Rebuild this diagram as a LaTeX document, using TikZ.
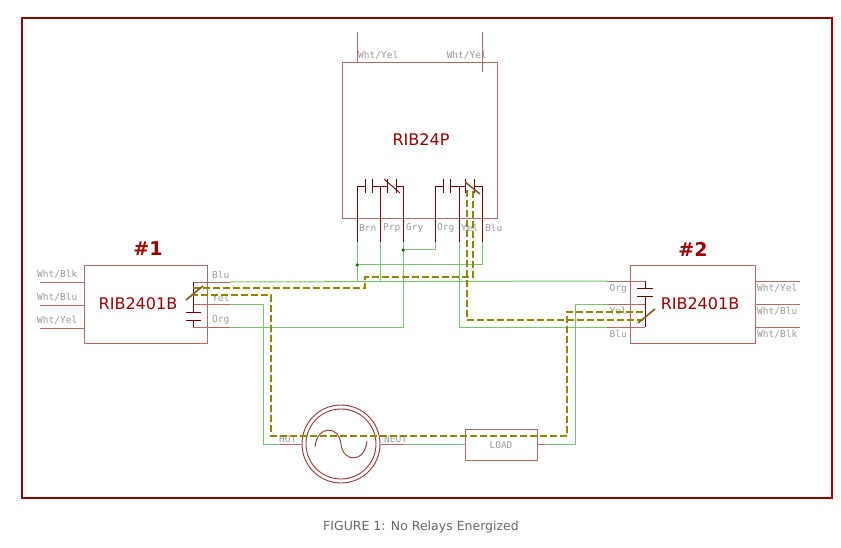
\documentclass[tikz,border=0pt]{standalone}
\usepackage{fontspec}
\setmainfont{DejaVu Sans}
\newfontfamily\labfont{DejaVu Sans Mono}
\begin{document}
\begin{tikzpicture}[x=1pt,y=-1pt,
  pin/.style={draw=red!55!black!60, line width=0.9pt},
  box/.style={draw=red!50!black!60, line width=0.9pt},
  cont/.style={draw=red!45!black, line width=0.9pt},
  wire/.style={draw=green!60!black!55, line width=1pt},
  hl/.style={draw=olive, line width=2.8pt, dash pattern=on 7pt off 3pt},
  slash/.style={draw=brown!70!black, line width=1.6pt},
  lab/.style={font=\labfont\fontsize{9.5}{10}\selectfont, text=black!40, inner sep=0pt},
  ttl/.style={font=\fontsize{16}{18}\selectfont, text=red!60!black, inner sep=0pt},
  num/.style={font=\bfseries\fontsize{19}{21}\selectfont, text=red!60!black, inner sep=0pt},
  dot/.style={circle, fill=green!40!black, inner sep=0pt, minimum size=3.5pt}]
\useasboundingbox (0,0) rectangle (841,548);
\draw[draw=red!60!black, line width=1.8pt] (22,18) rectangle (832,498);
\node[font=\fontsize{12.5}{14}\selectfont, text=black!60] (cap) at (421,527) {FIGURE 1: No Relays Energized};

% ---------- RIB24P ----------
\node[box, minimum width=155pt, minimum height=156pt, inner sep=0pt] (p) at (419.5,140) {};
\node[ttl] (pt) at (421,140) {RIB24P};
\draw[pin] (357,32) -- (357,62);
\draw[pin] (482,32) -- (482,72);
\node[lab, anchor=south west] (pl1) at (358,60) {Wht/Yel};
\node[lab, anchor=south east] (pl2) at (487,60) {Wht/Yel};
% contacts left group
\draw[cont] (357,242) -- (357,186) -- (365,186);
\draw[cont] (365,179) -- (365,193) (372,179) -- (372,193);
\draw[cont] (372,186) -- (387,186) (380,186) -- (380,242);
\draw[cont] (387,179) -- (387,193) (396,179) -- (396,193);
\draw[cont] (384,179) -- (400,193);
\draw[cont] (396,186) -- (403,186) -- (403,242);
% right group
\draw[cont] (435,242) -- (435,186) -- (443,186);
\draw[cont] (443,179) -- (443,193) (450,179) -- (450,193);
\draw[cont] (450,186) -- (465,186) (459,186) -- (459,242);
\draw[cont] (465,179) -- (465,193) (474,179) -- (474,193);
\draw[cont] (474,186) -- (482,186) -- (482,242);
\node[lab, anchor=west] (b1) at (359,228) {Brn};
\node[lab, anchor=west] (b2) at (383,228) {Prp};
\node[lab, anchor=west] (b3) at (406,228) {Gry};
\node[lab, anchor=west] (b4) at (437,228) {Org};
\node[lab, anchor=west] (b5) at (461,228) {Yel};
\node[lab, anchor=west] (b6) at (485,228) {Blu};

% ---------- #1 ----------
\node[num] (n1) at (148,249) {\#1};
\node[box, minimum width=123pt, minimum height=78pt, inner sep=0pt] (r1) at (145.5,304) {};
\node[ttl] (r1t) at (138,304) {RIB2401B};
\foreach \y/\t in {282/{Wht/Blk},305/{Wht/Blu},328/{Wht/Yel}}{
  \draw[pin] (40,\y) -- (84,\y);
  \node[lab, anchor=south west] at (37,\y-3) {\t};}
\draw[pin] (193,282) -- (230,282);
\draw[pin] (193,304) -- (230,304);
\draw[pin] (193,327) -- (230,327);
\draw[cont] (193,282) -- (193,304) (193,304) -- (193,312) (193,320) -- (193,327);
\draw[cont] (186,312) -- (201,312) (186,320) -- (201,320);
\node[lab, anchor=south west] (l1a) at (212,279) {Blu};
\node[lab, anchor=south west] (l1b) at (212,302) {Yel};
\node[lab, anchor=south west] (l1c) at (212,325) {Org};

% ---------- #2 ----------
\node[num] (n2) at (693,249) {\#2};
\node[box, minimum width=125pt, minimum height=78pt, inner sep=0pt] (r2) at (692.5,304) {};
\node[ttl] (r2t) at (700,304) {RIB2401B};
\foreach \y/\t in {281/{Wht/Yel},304/{Wht/Blu},327/{Wht/Blk}}{
  \draw[pin] (755,\y) -- (800,\y);
  \node[lab, anchor=north west] at (757,\y+3) {\t};}
\draw[pin] (607,281) -- (645,281);
\draw[pin] (607,304) -- (645,304);
\draw[pin] (607,327) -- (645,327);
\draw[cont] (645,281) -- (645,288) (645,296) -- (645,327);
\draw[cont] (637,288) -- (653,288) (637,296) -- (653,296);
\node[lab, anchor=north east] (l2a) at (627,284) {Org};
\node[lab, anchor=north east] (l2b) at (627,307) {Yel};
\node[lab, anchor=north east] (l2c) at (627,330) {Blu};

% ---------- source & load ----------
\node[circle, draw=red!50!black!80, line width=0.9pt, minimum size=78pt, inner sep=0pt] (ac) at (341,444) {};
\draw[draw=red!50!black!80, line width=0.9pt] (ac.center) circle (35);
\draw[draw=red!50!black!80, line width=0.9pt] (315,447) .. controls (317,425) and (339,425) .. (341,444) .. controls (343,463) and (365,463) .. (367,441);
\draw[pin] (280,444) -- (302,444) (380,444) -- (405,444);
\node[lab, anchor=south west] (hot) at (279,443) {HOT};
\node[lab, anchor=south west] (neu) at (384,443) {NEUT};
\node[box, minimum width=72pt, minimum height=31pt, inner sep=0pt] (ld) at (501,445) {};
\node[lab] (ldt) at (501,445) {LOAD};
\draw[pin] (537,444) -- (545,444);

% ---------- wires ----------
\draw[wire] (230,282) -- (607,281);
\draw[wire] (357,242) -- (357,282);
\draw[wire] (357,265) -- (482,265) -- (482,242);
\draw[wire] (380,242) -- (380,282);
\draw[wire] (403,242) -- (403,327) -- (230,327);
\draw[wire] (403,250) -- (435,250) -- (435,242);
\draw[wire] (459,242) -- (459,327) -- (607,327);
\draw[wire] (230,304) -- (263,304) -- (263,444) -- (280,444);
\draw[wire] (405,444) -- (465,444);
\draw[wire] (545,444) -- (575,444) -- (575,304) -- (607,304);
\node[dot] (d1) at (357,265) {};
\node[dot] (d2) at (403,250) {};

% ---------- highlighted path ----------
\draw[hl] (193,288) -- (365,288) -- (365,277) -- (473,277) -- (473,190);
\draw[hl] (467,190) -- (467,320) -- (643,320);
\draw[hl] (643,312) -- (567,312) -- (567,436) -- (271,436) -- (271,295) -- (193,295);
\draw[slash] (465,182) -- (480,194);
\draw[slash] (186,300) -- (203,286);
\draw[slash] (638,323) -- (655,309);
\end{tikzpicture}
\end{document}
